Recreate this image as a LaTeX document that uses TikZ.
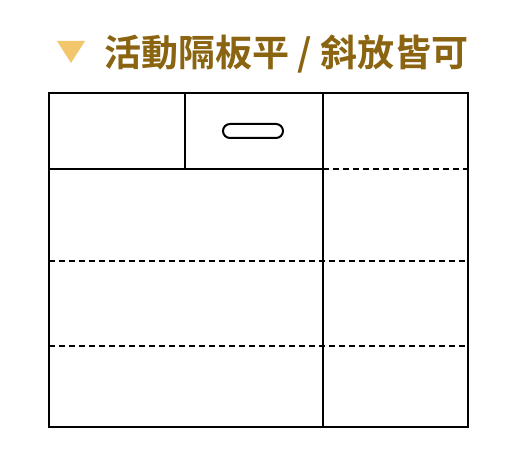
\documentclass[tikz,border=0pt]{standalone}
\usepackage{fontspec}
\newfontfamily\cjk{Noto Sans CJK TC Bold}
\definecolor{titlegold}{HTML}{8A6410}
\definecolor{trigold}{HTML}{F2C66A}
\begin{document}
\begin{tikzpicture}[x=1pt,y=-1pt,
  solidline/.style={line width=2.2pt,black},
  dashline/.style={line width=2.2pt,black,dash pattern=on 5.5pt off 4.5pt}]
\useasboundingbox (0,0) rectangle (505,465);
\fill[trigold] (57,41) -- (85,41) -- (71,63) -- cycle;
\node[anchor=west,inner sep=0pt,text=titlegold,font=\cjk\fontsize{37}{42}\selectfont] (title) at (104,54) {活動隔板平 / 斜放皆可};
% dashed lines
\draw[dashline] (323,169) -- (468,169);
\draw[dashline] (49,261) -- (468,261);
\draw[dashline] (49,346) -- (468,346);
% solid lines
\draw[solidline] (49,93) rectangle (468,427);
\draw[solidline] (323,93) -- (323,427);
\draw[solidline] (185,93) -- (185,169);
\draw[solidline] (49,169) -- (323,169);
% handle
\draw[line width=2pt,rounded corners=7pt] (223,124) rectangle (283,138);
\end{tikzpicture}
\end{document}
